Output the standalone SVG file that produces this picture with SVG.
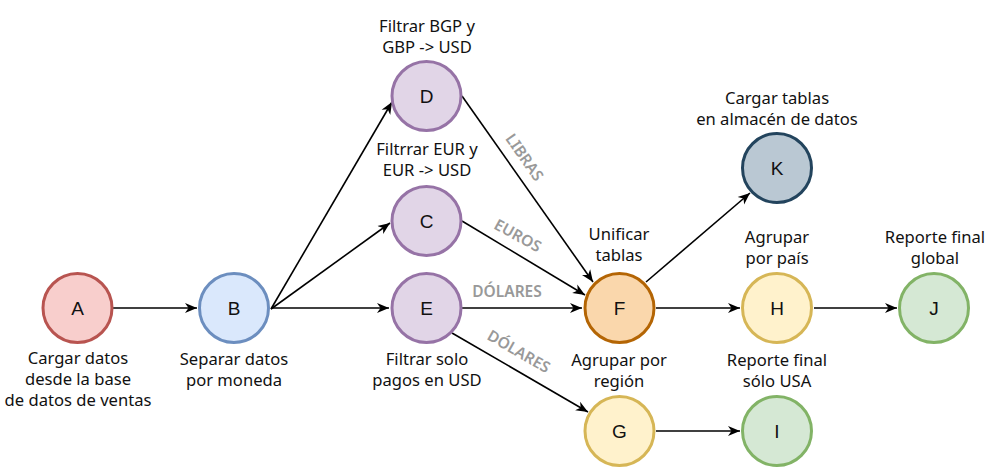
<svg xmlns="http://www.w3.org/2000/svg" width="993" height="476" viewBox="0 0 993 476">
<style>
.n{stroke-width:3}
.l{font-family:"Noto Sans","Open Sans",sans-serif;font-size:16.6px;fill:#111;text-anchor:middle}
.c{font-family:"Liberation Sans",Arial,sans-serif;font-size:19px;fill:#111;text-anchor:middle}
.e{fill:none;stroke:#000;stroke-width:1.6;marker-end:url(#ar)}
.el{font-family:"Noto Sans","Open Sans",sans-serif;font-size:15.5px;font-weight:600;fill:#999;text-anchor:middle;dominant-baseline:central}
.pu{fill:#e1d5e7;stroke:#9673a6}
.ye{fill:#fff2cc;stroke:#d6b656}
.gr{fill:#d5e8d4;stroke:#82b366}
</style>
<defs>
<marker id="ar" viewBox="-12 -6 13 12" refX="0" refY="0" markerWidth="13" markerHeight="12" markerUnits="userSpaceOnUse" orient="auto">
<path d="M0,0 L-12,-5 L-8.5,0 L-12,5 Z" fill="#000"/>
</marker>
</defs>
<rect width="993" height="476" fill="#fff"/>
<g id="edges">
<line class="e" x1="113" y1="308" x2="197" y2="308"/>
<line class="e" x1="271" y1="309" x2="392" y2="102"/>
<line class="e" x1="271" y1="309" x2="390" y2="223"/>
<line class="e" x1="271" y1="308" x2="389" y2="308"/>
<line class="e" x1="462" y1="96" x2="593" y2="282"/>
<line class="e" x1="462" y1="221" x2="585" y2="295"/>
<line class="e" x1="462" y1="308" x2="582" y2="308"/>
<line class="e" x1="452" y1="333" x2="588" y2="412"/>
<line class="e" x1="646" y1="282" x2="750" y2="193"/>
<line class="e" x1="656" y1="308" x2="740" y2="308"/>
<line class="e" x1="814" y1="308" x2="897" y2="308"/>
<line class="e" x1="656" y1="431" x2="740" y2="431"/>
<text class="el" transform="translate(525,157) rotate(55)">LIBRAS</text>
<text class="el" transform="translate(518,235) rotate(29)">EUROS</text>
<text class="el" transform="translate(507,291)">DÓLARES</text>
<text class="el" transform="translate(519,351) rotate(30)">DÓLARES</text>
</g>
<g id="A"><circle class="n" cx="77.5" cy="308" r="34.5" fill="#f8cecc" stroke="#b85450"/><text class="c" x="77.5" y="315">A</text>
<text class="l" x="78" y="364">Cargar datos</text><text class="l" x="78" y="385">desde la base</text><text class="l" x="78" y="406">de datos de ventas</text></g>
<g id="B"><circle class="n" cx="234" cy="308" r="34.5" fill="#dae8fc" stroke="#6c8ebf"/><text class="c" x="234" y="315">B</text>
<text class="l" x="234" y="365">Separar datos</text><text class="l" x="234" y="386">por moneda</text></g>
<g id="D"><circle class="n pu" cx="426.5" cy="96" r="34.5"/><text class="c" x="426.5" y="103">D</text>
<text class="l" x="427" y="32">Filtrar BGP y</text><text class="l" x="427" y="53">GBP -&gt; USD</text></g>
<g id="C"><circle class="n pu" cx="426.5" cy="221" r="34.5"/><text class="c" x="426.5" y="228">C</text>
<text class="l" x="427" y="155">Filtrrar EUR y</text><text class="l" x="427" y="176">EUR -&gt; USD</text></g>
<g id="E"><circle class="n pu" cx="426.5" cy="308" r="34.5"/><text class="c" x="426.5" y="315">E</text>
<text class="l" x="427" y="365">Filtrar solo</text><text class="l" x="427" y="386">pagos en USD</text></g>
<g id="F"><circle class="n" cx="619.5" cy="308" r="34.5" fill="#fad7ac" stroke="#b46504"/><text class="c" x="619.5" y="315">F</text>
<text class="l" x="619" y="240">Unificar</text><text class="l" x="619" y="261">tablas</text></g>
<g id="K"><circle class="n" cx="777" cy="168" r="34.5" fill="#bac8d3" stroke="#23445d"/><text class="c" x="777" y="175">K</text>
<text class="l" x="777" y="104">Cargar tablas</text><text class="l" x="777" y="125">en almacén de datos</text></g>
<g id="H"><circle class="n ye" cx="777" cy="308" r="34.5"/><text class="c" x="777" y="315">H</text>
<text class="l" x="777" y="243">Agrupar</text><text class="l" x="777" y="264">por país</text></g>
<g id="J"><circle class="n gr" cx="934" cy="308" r="34.5"/><text class="c" x="934" y="315">J</text>
<text class="l" x="935" y="243">Reporte final</text><text class="l" x="935" y="264">global</text></g>
<g id="G"><circle class="n ye" cx="619.5" cy="431" r="34.5"/><text class="c" x="619.5" y="438">G</text>
<text class="l" x="619" y="366">Agrupar por</text><text class="l" x="619" y="387">región</text></g>
<g id="I"><circle class="n gr" cx="777" cy="431" r="34.5"/><text class="c" x="777" y="438">I</text>
<text class="l" x="777" y="366">Reporte final</text><text class="l" x="777" y="387">sólo USA</text></g>
</svg>
